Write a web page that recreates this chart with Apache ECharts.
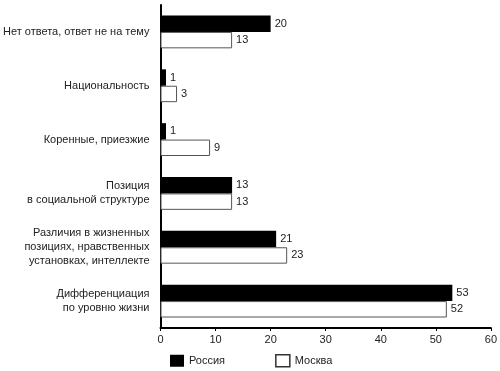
<!DOCTYPE html>
<html><head><meta charset="utf-8">
<script src="https://cdn.jsdelivr.net/npm/echarts@6/dist/echarts.min.js"></script>
<style>html,body{margin:0;padding:0;background:#fff}#c{width:500px;height:371px}</style>
</head><body><div id="c"></div>
<script>
const categories = [
  'Нет ответа, ответ не на тему',
  'Национальность',
  'Коренные, приезжие',
  'Позиция\nв социальной структуре',
  'Различия в жизненных\nпозициях, нравственных\nустановках, интеллекте',
  'Дифференциация\nпо уровню жизни'
];
const russia = [20, 1, 1, 13, 21, 53];
const moscow = [13, 3, 9, 13, 23, 52];
const xTicks = [0, 10, 20, 30, 40, 50, 60];

const font = 'Liberation Sans, Arial, sans-serif';
const chart = echarts.init(document.getElementById('c'), null, {renderer: 'canvas'});
chart.setOption({
  animation: false,
  backgroundColor: '#fff',
  textStyle: {fontFamily: font},
  grid: {left: 157, right: 9, top: 5, bottom: 43, containLabel: false},
  legend: {
    top: 349, left: 165, itemWidth: 14, itemHeight: 12, itemGap: 50,
    textStyle: {fontSize: 11, color: '#222', fontFamily: font},
    data: [
      {name: 'Россия', icon: 'rect', itemStyle: {color: '#000', borderColor: '#000'}},
      {name: 'Москва', icon: 'rect', itemStyle: {color: '#fff', borderColor: '#333', borderWidth: 1.5}}
    ]
  },
  xAxis: {
    type: 'value', min: xTicks[0], max: xTicks[xTicks.length - 1], interval: 10,
    axisLine: {show: true, lineStyle: {color: '#000', width: 2}},
    axisTick: {show: true, length: 3, lineStyle: {color: '#000'}},
    axisLabel: {fontSize: 11, color: '#222', margin: 6},
    splitLine: {show: false}
  },
  yAxis: {
    type: 'category', data: categories, inverse: true,
    axisLine: {show: true, lineStyle: {color: '#000', width: 2}},
    axisTick: {show: false},
    axisLabel: {fontSize: 11, color: '#222', margin: 11, lineHeight: 14, align: 'right'}
  },
  series: [
    {name: 'Россия', type: 'bar', data: russia, barGap: '0%', barCategoryGap: '39%',
     itemStyle: {color: '#000', borderColor: '#000', borderWidth: 0},
     label: {show: true, position: 'right', distance: 4, fontSize: 11, color: '#222'}},
    {name: 'Москва', type: 'bar', data: moscow,
     itemStyle: {color: '#fff', borderColor: '#555', borderWidth: 1},
     label: {show: true, position: 'right', distance: 4, fontSize: 11, color: '#222'}}
  ]
});
</script></body></html>
